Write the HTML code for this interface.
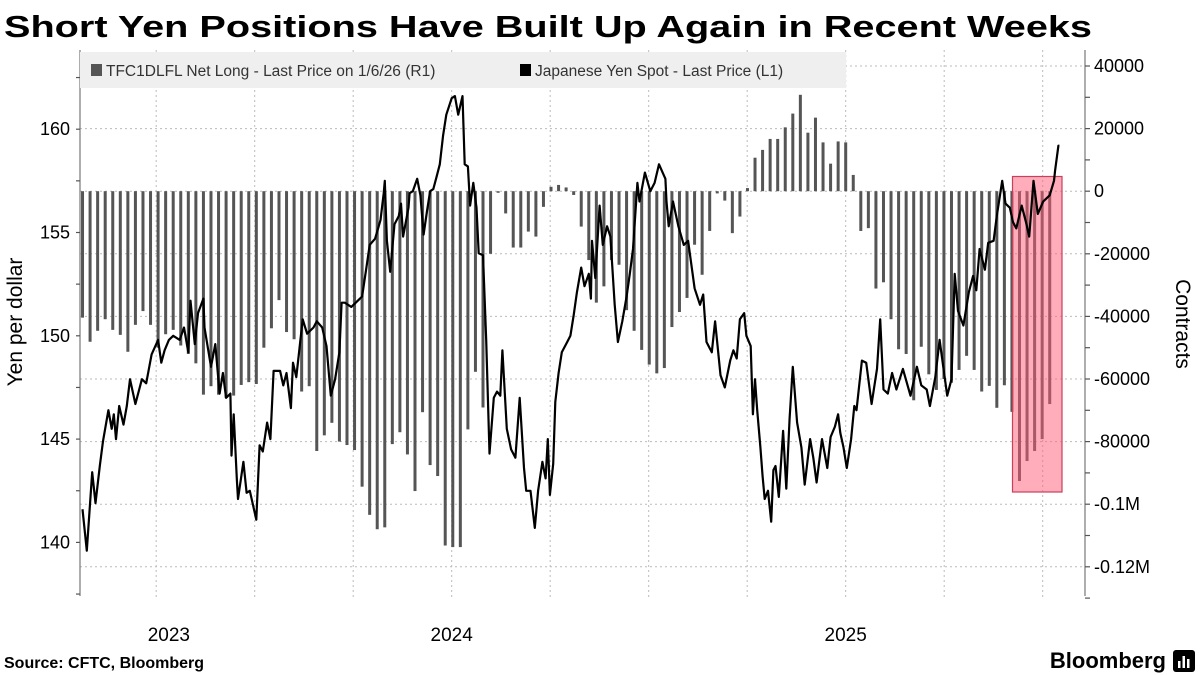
<!DOCTYPE html>
<html><head><meta charset="utf-8">
<style>
html,body{margin:0;padding:0;background:#fff;}
svg{display:block;font-family:"Liberation Sans",sans-serif;}
</style></head>
<body>
<svg id="chart" width="1200" height="675" viewBox="0 0 1200 675" xmlns="http://www.w3.org/2000/svg">
  <text x="4" y="37" font-size="31" font-weight="bold" fill="#000" textLength="1088" lengthAdjust="spacingAndGlyphs">Short Yen Positions Have Built Up Again in Recent Weeks</text>
  <g id="grid"></g>
  <g id="bars"></g>
  <rect x="1012.5" y="176.5" width="49.5" height="315.5" fill="rgba(255,90,120,0.5)" stroke="#c8405a" stroke-width="1.2"/>
  <path id="yenline" fill="none" stroke="#000" stroke-width="2.2" stroke-linejoin="round"/>
  <g id="axes"></g>
  <g>
    <rect x="80" y="52" width="766" height="36" fill="#efefef"/>
    <rect x="91" y="64" width="11" height="12" fill="#555"/>
    <text x="106" y="76" font-size="15.5" fill="#333">TFC1DLFL Net Long - Last Price on 1/6/26 (R1)</text>
    <rect x="520" y="64" width="11" height="12" fill="#000"/>
    <text x="535" y="76" font-size="15.5" fill="#333">Japanese Yen Spot - Last Price (L1)</text>
  </g>
  <text transform="translate(22,322) rotate(-90)" text-anchor="middle" font-size="21" fill="#000">Yen per dollar</text>
  <text transform="translate(1176,324) rotate(90)" text-anchor="middle" font-size="21" fill="#000">Contracts</text>
  <text x="4" y="668" font-size="16" font-weight="bold" fill="#000">Source: CFTC, Bloomberg</text>
  <text x="1166" y="668" text-anchor="end" font-size="22" font-weight="bold" fill="#000">Bloomberg</text>
  <g>
    <rect x="1173" y="650" width="22" height="22" rx="3" fill="#000"/>
    <rect x="1178" y="661" width="2.5" height="7" fill="#fff"/>
    <rect x="1182.5" y="656" width="2.5" height="12" fill="#fff"/>
    <rect x="1187" y="659" width="2.5" height="9" fill="#fff"/>
  </g>
</svg>
<script>
// Net long (thousands of contracts), weekly from 2023-07-25 to 2026-01-06
const barStart = "2023-07-25";
const netLong = [-40.4,-48.1,-44.6,-40.9,-44.3,-45.9,-51.3,-42.7,-38.3,-42.7,-50,-45.7,-44.3,-49.3,-52,-55,-65,-62.3,-65,-66,-65.3,-61.9,-61,-61.6,-50,-43.8,-34.8,-45,-47.3,-64,-62.3,-83,-78,-74,-80,-81.1,-82.7,-94.4,-103.4,-108,-107.4,-80.8,-77,-84.1,-95.8,-70.6,-87.5,-91,-113.2,-113.7,-113.7,-76.1,-57.7,-69.1,-20,-0.5,-7.1,-18,-18,-12.9,-14.5,-5,1.4,2,1.2,-1.2,-11.3,-22,-35.6,-30.4,-22,-23.5,-38,-44.6,-50.7,-55.4,-58.2,-56.5,-43.4,-38.6,-34.1,-17.1,-26.7,-12.7,-0.7,-3,-13.4,-8.1,1,10.7,13.2,16.7,16.7,20.4,24.8,30.8,18.7,23.5,15.6,8.8,15.9,15.6,5.2,-12.7,-11.8,-31.1,-29.1,-40.9,-50.5,-52,-66.8,-49.7,-58.5,-63.5,-60,-61.2,-57.1,-52.6,-57.1,-64,-62.2,-69.2,-62,-70.5,-92.6,-86.2,-83,-79.2,-68];
// Yen spot: days relative to 2024-07-01, and price
const yenDays = [-342,-338,-333,-330,-326,-323,-318,-315,-313,-311,-308,-304,-301,-298,-293,-287,-283,-278,-272,-269,-266,-262,-258,-252,-248,-244,-242,-238,-235,-230,-229,-223,-219,-215,-212,-209,-205,-204,-202,-199,-198,-193,-190,-187,-181,-178,-175,-171,-168,-165,-159,-156,-153,-149,-147,-144,-141,-138,-134,-128,-125,-120,-116,-112,-108,-104,-102,-99,-93,-87,-83,-79,-76,-71,-66,-63,-62,-60,-57,-53,-49,-47,-45,-40,-39,-36,-32,-29,-26,-23,-20,-17,-14,-11,-8,-5,0,3,6,10,12,15,17,20,23,25,29,32,35,39,42,45,47,51,55,59,63,67,69,73,77,80,84,87,89,91,94,96,99,102,107,110,113,116,120,123,127,129,130,133,137,140,144,147,151,154,158,162,165,168,172,174,179,184,188,192,198,199,201,205,210,215,219,225,230,233,236,241,244,249,253,258,261,264,267,271,273,277,279,281,283,286,288,290,293,296,298,300,303,307,310,313,316,320,324,327,332,335,338,343,348,351,355,358,360,363,366,370,373,375,380,384,389,394,397,400,404,408,412,418,425,431,435,440,443,448,452,459,463,466,469,474,479,483,486,489,494,497,502,505,510,513,517,520,523,528,532,535,539,543,548,554,558,559,562,563];
const yenPrice = [141.6,139.6,143.4,141.9,143.7,144.9,146.4,145.5,146.2,145,146.6,145.7,146.6,147.9,146.7,147.9,147.7,149.1,149.8,148.7,149.3,149.8,150,149.8,150.4,149.2,151.7,149.6,151.1,151.8,150.4,148.5,149.6,147.2,148.2,147,147.2,144.2,146.2,143,142.1,143.9,142.4,142.5,141.1,144.7,144.4,145.8,145,148.3,148.3,147.6,148.2,146.5,148.7,148,149.4,150.8,150.1,150.4,150.7,150.4,149.5,147.1,147.9,149.2,151.6,151.6,151.4,151.7,151.9,153.3,154.4,154.7,155.6,156.9,157.5,154.6,153.1,155.4,155.8,156.4,154.8,156.2,156.9,157,157.6,156.8,154.9,156,157,157.1,157.7,158.3,159.7,160.7,161.5,161.6,160.7,161.6,158.3,158.2,156.3,157.4,156.2,154,153.9,149.8,144.3,147,147.3,147.1,149.3,145.5,144.5,144.1,147,143.6,142.5,142.5,140.7,142.5,143.9,143.1,145,142.3,143.8,146.8,148.2,149.2,149.7,150,151,152.1,153.3,152.4,153,151.8,154.6,152.8,156.3,154.4,155.3,154.8,151.5,149.7,150.7,151.9,153,154.2,157.4,156.5,157.9,157,157.4,158.3,157.6,156.5,155.3,156.5,155.3,154.4,154.6,152.3,151.5,152,149.7,149.2,150.7,148.1,147.5,148.8,149.3,148.9,150.8,151.1,150,149.5,146.2,147.9,146.4,144.6,143.2,142.1,142.5,141,143.5,143.7,142.2,145.4,142.6,146,148.5,145.8,144.6,142.8,145,144.1,142.9,145,143.6,145.1,145.6,146.2,145.3,144.6,143.6,145,146.6,146.4,148.8,148.7,146.7,148.4,150.8,147.4,147.2,148.2,147.4,148.4,147.1,148.5,147.6,147.4,146.6,148,149.8,147.1,147.9,153,151.2,150.5,152.1,152.9,152.2,154.2,153.2,154.5,154.6,155.8,157.5,156.4,156.2,155.5,155.2,156.3,155.5,154.8,157.5,155.9,156.5,156.8,157.5,158,159.2,159.2];
const leftTicks = [140,145,150,155,160];
const rightTicks = [40000,20000,0,-20000,-40000,-60000,-80000,-100000,-120000];
const rightTickLabels = ["40000","20000","0","-20000","-40000","-60000","-80000","-0.1M","-0.12M"];
const yearLabels = ["2023","2024","2025"];
const yearLabelDays = [-262,0,365];

const NS = "http://www.w3.org/2000/svg";
const X0 = 451.7, PXDAY = 394/365;
function xScale(d){ return X0 + d*PXDAY; }
function yLeft(v){ return 129.2 + (160 - v)*20.66; }
function yRight(v){ return 191.2 - v*62.6/20000; }
function mk(tag, attrs, parent){ const e=document.createElementNS(NS,tag); for(const k in attrs) e.setAttribute(k,attrs[k]); parent.appendChild(e); return e; }

const grid = document.getElementById('grid');
const axes = document.getElementById('axes');
rightTicks.forEach(function(t){
  const l = mk('line',{x1:80,x2:1085,y1:yRight(t),y2:yRight(t),stroke:'#bbb','stroke-width':1,'stroke-dasharray':'2,3'},grid);
  
  
});
for(let q=-3;q<=6;q++){
  const x = xScale(q*394/4/PXDAY);
  const l = mk('line',{x1:x,x2:x,y1:50,y2:599,stroke:'#bbb','stroke-width':1,'stroke-dasharray':'2,3'},grid);
  
  
}
mk('line',{x1:80,x2:80,y1:50,y2:596,stroke:'#777','stroke-width':1.2},axes);
mk('line',{x1:1085,x2:1085,y1:50,y2:596,stroke:'#777','stroke-width':1.2},axes);
for(let v=137.5; v<=162.5; v+=2.5){
  mk('line',{x1:76,x2:80,y1:yLeft(v),y2:yLeft(v),stroke:'#555','stroke-width':1.2},axes);
}
leftTicks.forEach(function(v){
  const t = mk('text',{x:70,y:yLeft(v)+6,'text-anchor':'end','font-size':18,fill:'#000'},axes);
  t.textContent = String(v);
  
  
});
for(let v=40000; v>=-130000; v-=10000){
  mk('line',{x1:1085,x2:1090,y1:yRight(v),y2:yRight(v),stroke:'#555','stroke-width':1.2},axes);
}
rightTicks.forEach(function(v,i){
  const t = mk('text',{x:1094,y:yRight(v)+6,'font-size':18,fill:'#000'},axes);
  t.textContent = rightTickLabels[i];
  
  
});
yearLabels.forEach(function(s,i){
  const t = mk('text',{x:xScale(yearLabelDays[i]),y:641,'text-anchor':'middle','font-size':19,fill:'#000'},axes);
  t.textContent = s;
  
  
});
const barsG = document.getElementById('bars');
const start = new Date(barStart+"T00:00:00Z"), ref = new Date("2024-07-01T00:00:00Z");
const startDay = Math.round((start-ref)/86400000);
netLong.forEach(function(v,i){
  if(v===null) return;
  const x = xScale(startDay + 7*i);
  const y0 = yRight(0), y1 = yRight(v*1000);
  const r = mk('rect',{x:x-1.5,y:Math.min(y0,y1),width:3,height:Math.max(0.8,Math.abs(y1-y0)),fill:'#555'},barsG);
  
  
});
let d = "";
yenDays.forEach(function(dd,i){ d += (i?"L":"M") + xScale(dd).toFixed(1) + "," + yLeft(yenPrice[i]).toFixed(1); });
document.getElementById('yenline').setAttribute('d', d);
</script>
</body></html>
